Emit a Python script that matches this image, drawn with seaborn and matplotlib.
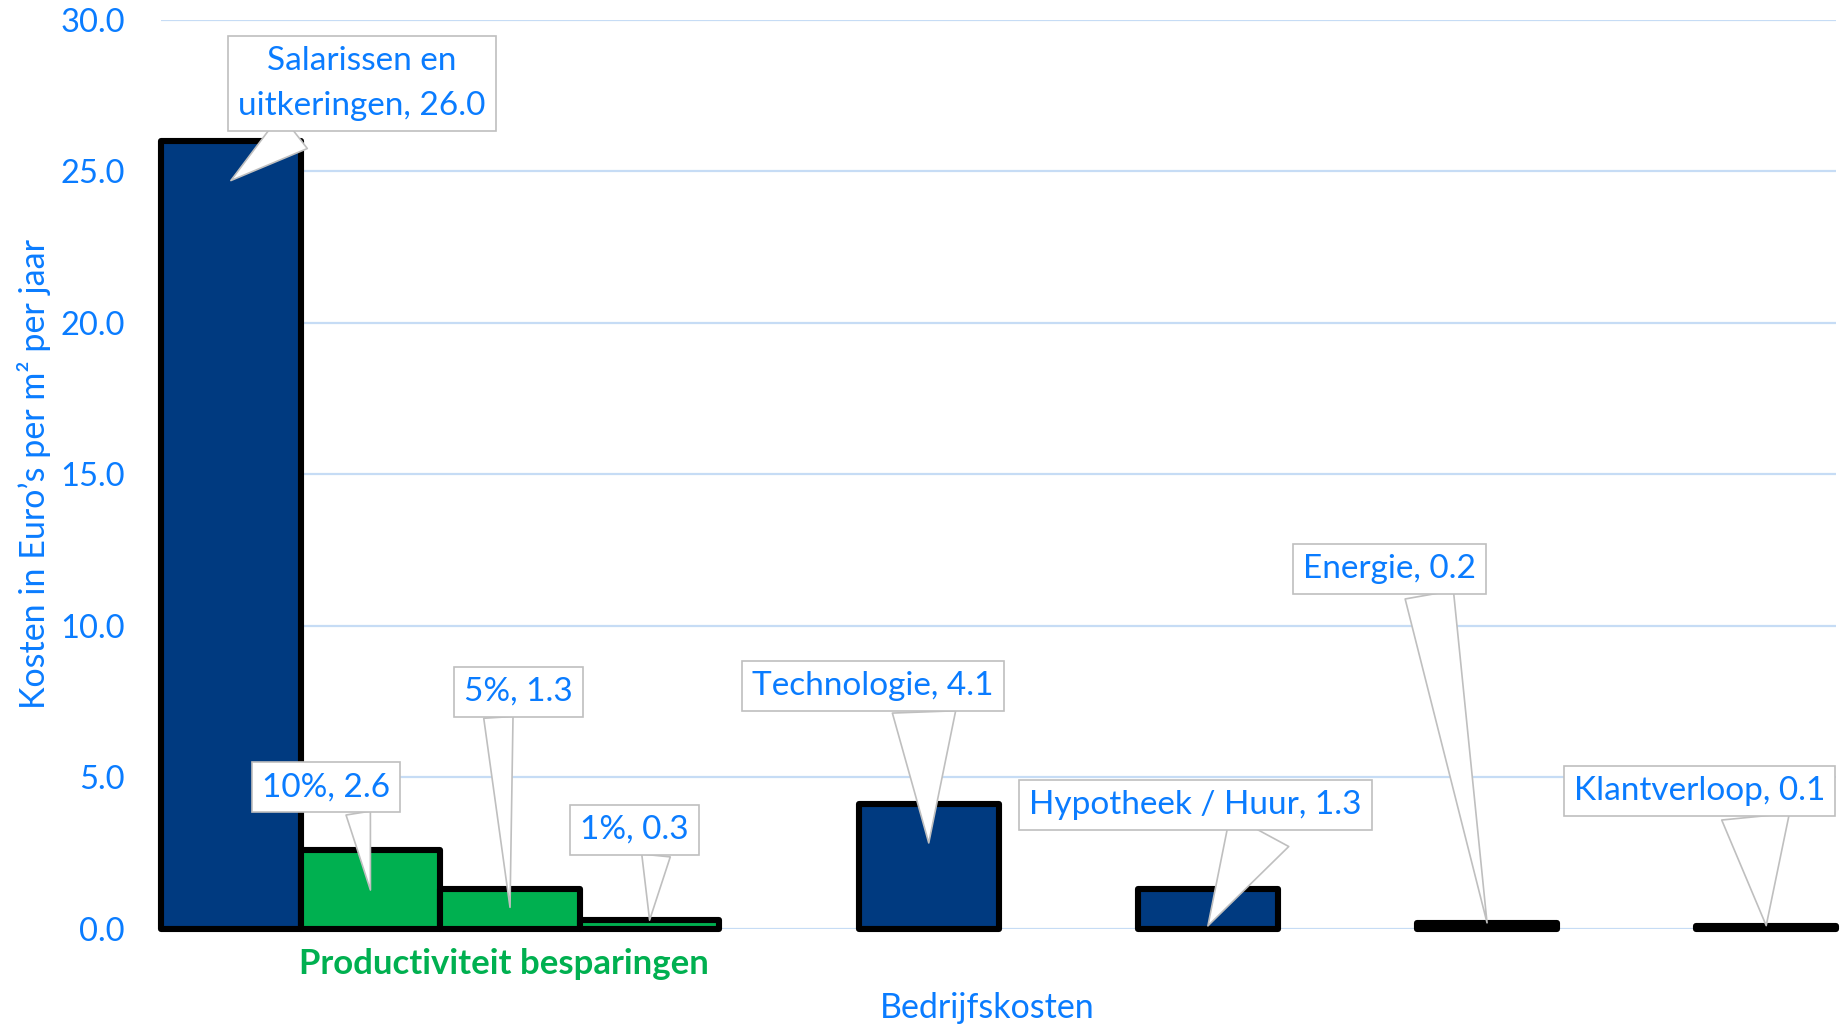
import matplotlib
matplotlib.use("Agg")
import matplotlib.pyplot as plt
import matplotlib.transforms as mtransforms
import seaborn as sns
import pandas as pd

# bar data, slot = position on the x axis (the skipped slots are the gaps)
labels = ["Salarissen en\nuitkeringen", "10%", "5%", "1%", "Technologie",
          "Hypotheek / Huur", "Energie", "Klantverloop"]
values = [26.0, 2.6, 1.3, 0.3, 4.1, 1.3, 0.2, 0.1]
slots = [0, 1, 2, 3, 5, 7, 9, 11]
groups = ["kosten", "besparing", "besparing", "besparing",
          "kosten", "kosten", "kosten", "kosten"]
yticks = [0, 5, 10, 15, 20, 25, 30]

# callout layout: box centre (data coords), where the wedge points,
# wedge width and where the wedge leaves the box
box_pos = [(0.94, 27.9), (0.68, 4.66), (2.06, 7.82), (2.89, 3.26),
           (4.6, 8.0), (6.91, 4.08), (8.3, 11.87), (10.52, 4.54)]
tip_frac = [0.95, 0.49, 0.54, 0.93, 0.69, 0.07, 0.95, 1.0]
tail_w = [1.3, 0.74, 0.88, 0.86, 1.9, 2.0, 1.47, 2.04]
base_x = [0.28, 0.74, 0.31, 0.71, 0.71, 0.71, 0.72, 0.72]

BLUE_TXT = "#0A7CFF"
BAR_BLUE = "#003A80"
BAR_GREEN = "#00B050"
GRID = "#C6DCF5"
BOX_EDGE = "#BFBFBF"

sns.set_style("white")
plt.rcParams["font.family"] = ["Lato", "DejaVu Sans"]

fig = plt.figure(figsize=(18.43, 10.27), dpi=100)
ax = fig.add_axes([0.0874, 0.0958, 0.9088, 0.8847])

df = pd.DataFrame({"slot": slots, "value": values, "group": groups})
sns.barplot(data=df, x="slot", y="value", hue="group",
            palette={"kosten": BAR_BLUE, "besparing": BAR_GREEN}, saturation=1,
            native_scale=True, width=1.0, dodge=False, errorbar=None,
            edgecolor="black", linewidth=4.4, legend=False, ax=ax)
for p in ax.patches:
    p.set_joinstyle("round")
    p.set_clip_on(False)
    p.set_zorder(3)

ax.set_xlim(-0.5, 11.5)
ax.set_ylim(0, 30)
ax.set_yticks(yticks)
ax.set_yticklabels([f"{v:.1f}" for v in yticks])
ax.set_xticks([])
ax.yaxis.grid(True, color=GRID, lw=1.6)
ax.xaxis.grid(False)
ax.set_axisbelow(True)
for s in ax.spines.values():
    s.set_visible(False)
ax.tick_params(axis="y", length=0, pad=26, labelsize=23.5, labelcolor=BLUE_TXT)

ax.set_ylabel("Kosten in Euro’s per m² per jaar", fontsize=24.5, color=BLUE_TXT)
ax.yaxis.set_label_coords(-0.066, 0.5)
ax.set_xlabel("Bedrijfskosten", fontsize=24.5, color=BLUE_TXT)
ax.xaxis.set_label_coords(0.493, -0.07)

trans = mtransforms.blended_transform_factory(ax.transData, ax.transAxes)
ax.text(1.96, -0.039, "Productiviteit besparingen", transform=trans,
        ha="center", va="center", fontsize=25, fontweight="bold", color=BAR_GREEN)

# callouts
for i in range(len(values)):
    ax.annotate(f"{labels[i]}, {values[i]:.1f}",
                xy=(slots[i], values[i] * tip_frac[i]), xytext=box_pos[i],
                textcoords="data", ha="center", va="center",
                multialignment="center", linespacing=1.6,
                fontsize=24, color=BLUE_TXT, zorder=5, annotation_clip=False,
                bbox=dict(boxstyle="square,pad=0.3", fc="white", ec=BOX_EDGE, lw=1.2),
                arrowprops=dict(arrowstyle=f"wedge,tail_width={tail_w[i]},shrink_factor=0.5",
                                fc="white", ec=BOX_EDGE, lw=1.2,
                                relpos=(base_x[i], 0.0), shrinkA=0, shrinkB=0))

fig.savefig("out.png", dpi=100)
